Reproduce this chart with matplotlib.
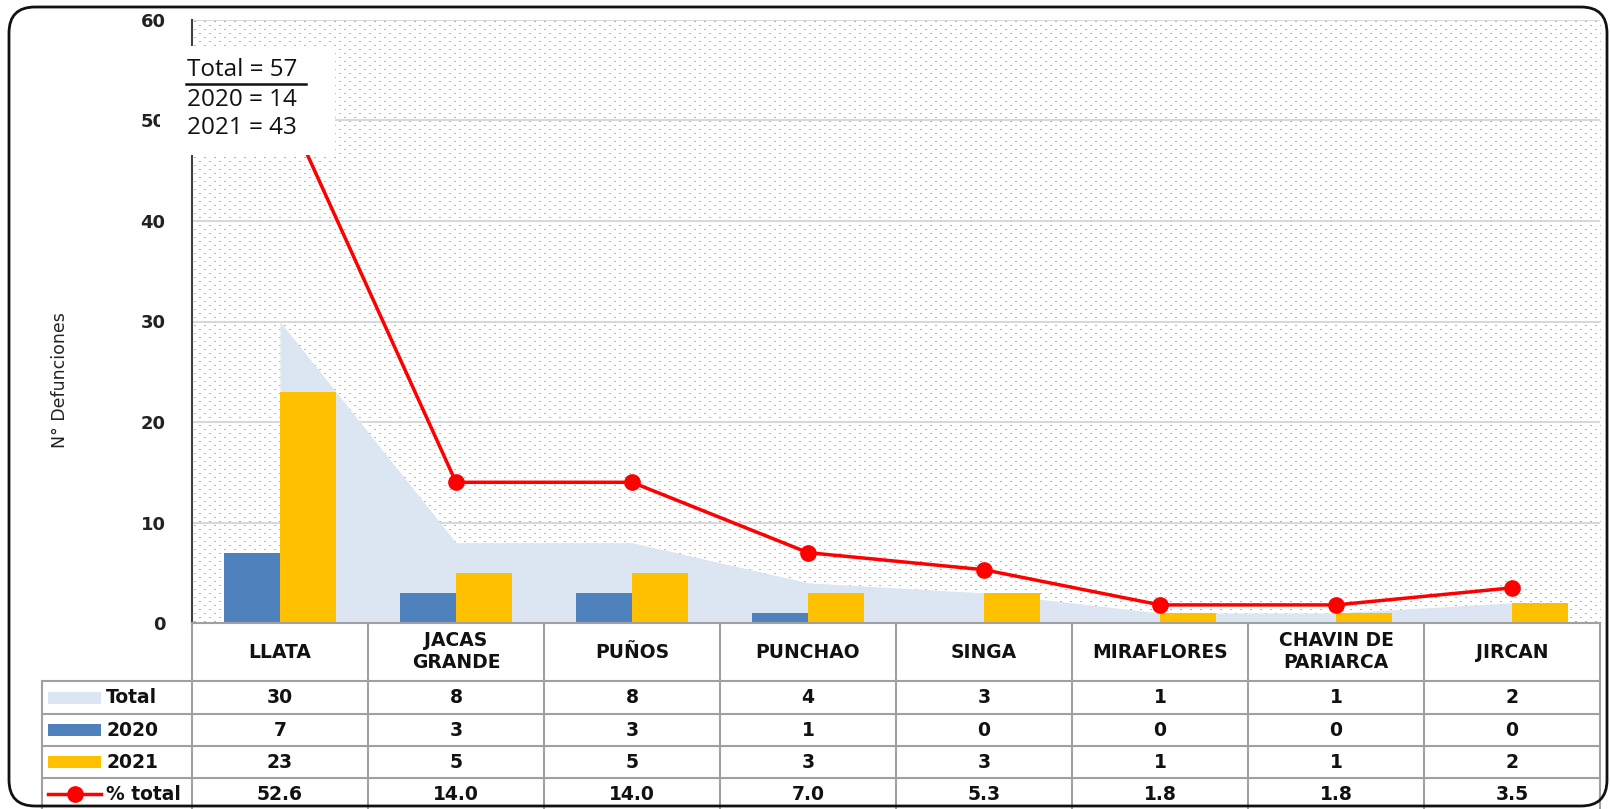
import matplotlib
matplotlib.use("Agg")
import matplotlib.pyplot as plt
from matplotlib.patches import Rectangle, FancyBboxPatch
from matplotlib.lines import Line2D
from matplotlib.transforms import blended_transform_factory, IdentityTransform
import numpy as np

categories = ["LLATA", "JACAS\nGRANDE", "PUÑOS", "PUNCHAO", "SINGA", "MIRAFLORES", "CHAVIN DE\nPARIARCA", "JIRCAN"]
total = [30, 8, 8, 4, 3, 1, 1, 2]
y2020 = [7, 3, 3, 1, 0, 0, 0, 0]
y2021 = [23, 5, 5, 3, 3, 1, 1, 2]
pct_total = [52.6, 14.0, 14.0, 7.0, 5.3, 1.8, 1.8, 3.5]
yticks = [0, 10, 20, 30, 40, 50, 60]
summary = ["Total = 57", "2020 = 14", "2021 = 43"]

W, H = 1610, 809
fig = plt.figure(figsize=(W / 100, H / 100), dpi=100)

def fx(px):
    return px / W

def fy(py):
    return 1 - py / H

ax_l, ax_r, ax_t, ax_b = 192, 1600, 20, 623
ax = fig.add_axes([fx(ax_l), fy(ax_b), fx(ax_r - ax_l), (ax_b - ax_t) / H])

x = np.arange(len(categories))
xlim = (-0.5, len(categories) - 0.5)
ylim = (0, 60)

# dotted background texture (decoration)
pw, ph = ax_r - ax_l, ax_b - ax_t
tex = np.ones((ph, pw, 3))
dot = np.array([0.60, 0.72, 0.90])
for r in range(1, ph, 4):
    off = 0 if (r // 4) % 2 == 0 else 5
    for c in range(2 + off, pw, 10):
        tex[r, c:c + 2] = dot
ax.imshow(tex, extent=(xlim[0], xlim[1], ylim[0], ylim[1]), aspect="auto",
          interpolation="nearest", zorder=0)
ax.set_xlim(*xlim)
ax.set_ylim(*ylim)

for v in yticks[1:]:
    ax.axhline(v, color="#d9d9d9", lw=1.5, zorder=1)

ax.fill_between(x, total, 0, color="#dce6f2", lw=0, zorder=2)
bw = 0.32
ax.bar(x - bw / 2, y2020, width=bw, color="#4f81bd", zorder=3)
ax.bar(x + bw / 2, y2021, width=bw, color="#ffc000", zorder=3)
ax.plot(x, pct_total, color="#ff0000", lw=2.5, marker="o", ms=11, zorder=4)

for s in ["top", "right", "bottom"]:
    ax.spines[s].set_visible(False)
ax.spines["left"].set_color("#404040")
ax.spines["left"].set_linewidth(1.5)
ax.set_xticks([])
ax.set_yticks(yticks)
ax.set_yticklabels([str(v) for v in yticks], fontsize=13, fontweight="bold", color="#222222")
ax.tick_params(axis="y", length=0, pad=19)

fig.text(fx(60), fy(380), "N° Defunciones", rotation=90, ha="center", va="center",
         fontsize=12.5, family=["Liberation Sans Narrow", "DejaVu Sans"], color="#222222")

# summary box
fig.patches.append(Rectangle((fx(160), fy(155)), fx(335 - 160), (155 - 46) / H,
                             transform=fig.transFigure, facecolor="white", edgecolor="none", zorder=5))
for s, yy in zip(summary, [70, 100, 128]):
    fig.text(fx(187), fy(yy), s, ha="left", va="center", fontsize=17.5,
             family=["Open Sans", "DejaVu Sans"], color="#111111", zorder=6)
fig.add_artist(Line2D([fx(186), fx(306)], [fy(84), fy(84)], color="#111111", lw=1.8, zorder=6))

# data table
tr = blended_transform_factory(ax.transData, fig.transFigure)
grid_c = "#a0a0a0"
row_edges = [623, 681, 714, 746, 778, 809]
xl, xr = xlim
for i in range(len(categories) + 1):
    fig.add_artist(Line2D([i - 0.5, i - 0.5], [fy(623), fy(809)], transform=tr, color=grid_c, lw=1.5))
fig.add_artist(Line2D([fx(42), fx(42)], [fy(681), fy(809)], color=grid_c, lw=1.5))
fig.add_artist(Line2D([xl, xr], [fy(623), fy(623)], transform=tr, color=grid_c, lw=1.5))
for yy in row_edges[1:-1]:
    fig.add_artist(Line2D([fx(42), fx(1600)], [fy(yy), fy(yy)], color=grid_c, lw=1.5))

tkw = dict(ha="center", va="center", fontsize=13.5, fontweight="bold", color="#111111", linespacing=1.2)
for i, c in enumerate(categories):
    fig.text(i, fy(652), c, transform=tr, **tkw)
rows = [total, y2020, y2021, pct_total]
row_fmt = ["{:d}", "{:d}", "{:d}", "{:.1f}"]
row_centers = [697.5, 730, 762, 794]
for vals, fmt, yc in zip(rows, row_fmt, row_centers):
    for i, v in enumerate(vals):
        fig.text(i, fy(yc), fmt.format(v), transform=tr, **tkw)

labels = ["Total", "2020", "2021", "% total"]
colors = ["#dce6f2", "#4f81bd", "#ffc000"]
for j, (lab, yc) in enumerate(zip(labels, row_centers)):
    if j < 3:
        fig.patches.append(Rectangle((fx(48), fy(yc + 6)), fx(53), 12 / H, transform=fig.transFigure,
                                     facecolor=colors[j], edgecolor="none"))
    else:
        fig.add_artist(Line2D([fx(48), fx(101)], [fy(yc), fy(yc)], color="#ff0000", lw=2.5))
        fig.add_artist(Line2D([fx(75)], [fy(yc)], color="#ff0000", marker="o", ms=11, lw=0))
    fig.text(fx(106), fy(yc), lab, ha="left", va="center", fontsize=13.5, fontweight="bold", color="#111111")

# rounded border (display pixel coordinates)
fig.patches.append(FancyBboxPatch((9, 3), 1598, 799,
                                  boxstyle="round,pad=0,rounding_size=26",
                                  transform=IdentityTransform(), facecolor="none", edgecolor="#111111",
                                  lw=2, zorder=10))

fig.savefig("out.png", dpi=100)
